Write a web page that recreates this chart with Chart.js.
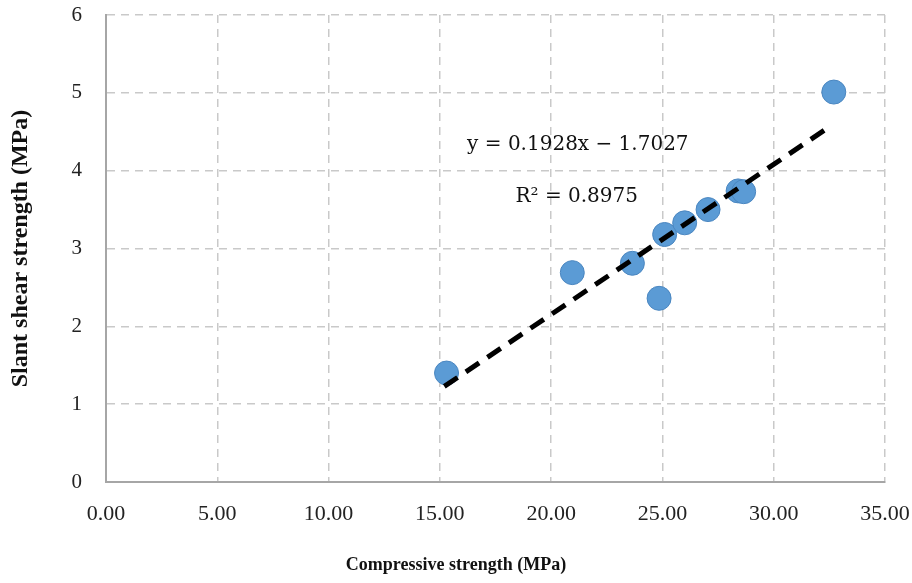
<!DOCTYPE html>
<html>
<head>
<meta charset="utf-8">
<script src="https://cdn.jsdelivr.net/npm/chart.js@4"></script>
<style>
  html, body { margin: 0; padding: 0; background: #fff; }
  #wrap { width: 912px; height: 583px; }
</style>
</head>
<body>
<div id="wrap"><canvas id="scatter"></canvas></div>
<script>
// measured points
const compStrength = [15.3, 20.95, 23.65, 24.85, 25.1, 26.0, 27.05, 28.4, 28.65, 32.7];
const shearStrength = [1.40, 2.69, 2.81, 2.36, 3.18, 3.33, 3.50, 3.74, 3.73, 5.01];

// fitted trend line end points
const trendX = [15.2, 32.5];
const trendY = [1.228, 4.563];

const equationText = 'y = 0.1928x \u2212 1.7027';
const r2Text = 'R\u00B2 = 0.8975';
const xTitle = 'Compressive strength (MPa)';

const gridColor = '#c9c9c9';
const axisColor = '#a6a6a6';
const serif = '"Liberation Serif", "Times New Roman", serif';

const points = compStrength.map((x, i) => ({ x: x, y: shearStrength[i] }));
const trend = trendX.map((x, i) => ({ x: x, y: trendY[i] }));

// trendline equation in data coordinates + x title centred on the image
const extraText = {
  id: 'extraText',
  afterDatasetsDraw(chart) {
    const { ctx, scales } = chart;
    ctx.save();
    ctx.fillStyle = '#111';
    ctx.font = '20px "DejaVu Serif", serif';
    ctx.textAlign = 'center';
    ctx.textBaseline = 'middle';
    ctx.fillText(equationText, scales.x.getPixelForValue(21.2), scales.y.getPixelForValue(4.33));
    ctx.fillText(r2Text, scales.x.getPixelForValue(21.15), scales.y.getPixelForValue(3.66));

    ctx.font = 'bold 18px ' + serif;
    ctx.fillText(xTitle, chart.width / 2, scales.x.bottom - 18);
    ctx.restore();
  }
};

const ctx = document.getElementById('scatter').getContext('2d');
new Chart(ctx, {
  type: 'scatter',
  data: {
    datasets: [
      {
        label: 'trend',
        data: trend,
        showLine: true,
        borderColor: '#000',
        borderWidth: 5,
        borderDash: [16, 10],
        pointRadius: 0,
        fill: false,
        order: 1
      },
      {
        label: 'data',
        data: points,
        backgroundColor: '#5b9bd5',
        borderColor: '#4a86c0',
        borderWidth: 1,
        pointRadius: 12,
        pointHoverRadius: 12,
        order: 2
      }
    ]
  },
  options: {
    responsive: true,
    maintainAspectRatio: false,
    animation: false,
    layout: { padding: { top: 15, right: 27, left: 0, bottom: 0 } },
    plugins: {
      legend: { display: false },
      tooltip: { enabled: false }
    },
    scales: {
      x: {
        type: 'linear',
        min: 0,
        max: 35,
        afterFit(scale) {
          scale.height = 101;
          scale.paddingLeft = 0;
          scale.paddingRight = 0;
        },
        ticks: {
          stepSize: 5,
          padding: 19,
          color: '#222',
          font: { family: serif, size: 22 },
          callback: (v) => v.toFixed(2)
        },
        grid: {
          color: gridColor,
          lineWidth: 1.5,
          drawTicks: false
        },
        border: { display: true, color: axisColor, width: 2, dash: [8, 6] }
      },
      y: {
        min: 0,
        max: 6,
        afterFit(scale) {
          scale.width = 106;
          scale.paddingTop = 0;
          scale.paddingBottom = 0;
        },
        ticks: {
          stepSize: 1,
          padding: 24,
          color: '#222',
          font: { family: serif, size: 21 }
        },
        grid: {
          color: gridColor,
          lineWidth: 1.5,
          drawTicks: false
        },
        border: { display: true, color: axisColor, width: 2, dash: [8, 6] },
        title: {
          display: true,
          text: 'Slant shear strength (MPa)',
          color: '#111',
          font: { family: serif, size: 24, weight: 'bold' },
          padding: { top: 6, bottom: 0 }
        }
      }
    }
  },
  plugins: [extraText]
});
</script>
</body>
</html>
